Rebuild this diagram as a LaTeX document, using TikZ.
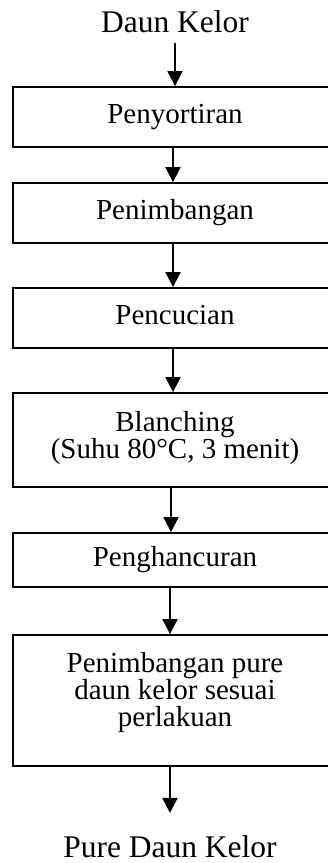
\documentclass[tikz,border=0pt]{standalone}
\usepackage{fontspec}
\setmainfont{Liberation Serif}
\usetikzlibrary{arrows.meta}
\begin{document}
\begin{tikzpicture}[x=1pt,y=-1pt,
  boxnode/.style={draw, line width=1.8pt, minimum width=324pt, inner sep=0pt,
    align=center, font=\fontsize{29}{27}\selectfont},
  oneline/.style={text height=20pt, text depth=6.4pt},
  endtext/.style={inner sep=0pt, anchor=base, font=\fontsize{31.5}{34}\selectfont},
  arr/.style={line width=1.8pt, -{Triangle[length=15pt,width=15pt]}}
]
\useasboundingbox (0,0) rectangle (328,863);
\clip (0,0) rectangle (328,863);
\node[endtext] (start) at (175,32) {Daun Kelor};
\node[boxnode, oneline, minimum height=60pt] (b1) at (175,117) {Penyortiran};
\node[boxnode, oneline, minimum height=60pt] (b2) at (175,213) {Penimbangan};
\node[boxnode, oneline, minimum height=60pt] (b3) at (175,318) {Pencucian};
\node[boxnode, minimum height=94pt, font=\fontsize{29}{26}\selectfont] (b4) at (175,440) {Blanching\\(Suhu 80°C, 3 menit)\rule[-10pt]{0pt}{10pt}};
\node[boxnode, oneline, minimum height=54pt] (b5) at (175,560) {Penghancuran};
\node[boxnode, minimum height=131pt] (b6) at (175,700.5) {Penimbangan pure\\daun kelor sesuai\\perlakuan\rule[-23pt]{0pt}{23pt}};
\node[endtext] (finish) at (170,857) {Pure Daun Kelor};

\draw[arr, shorten <=10pt] (start.south) -- (b1.north);
\draw[arr] ([xshift=-2pt]b1.south) -- ([xshift=-2pt]b2.north);
\draw[arr] ([xshift=-2pt]b2.south) -- ([xshift=-2pt]b3.north);
\draw[arr] ([xshift=-2pt]b3.south) -- ([xshift=-2pt]b4.north);
\draw[arr] ([xshift=-4pt]b4.south) -- ([xshift=-4pt]b5.north);
\draw[arr] ([xshift=-5pt]b5.south) -- ([xshift=-5pt]b6.north);
\draw[arr, shorten >=22pt] ([xshift=-5pt]b6.south) -- (finish.north);
\end{tikzpicture}
\end{document}
